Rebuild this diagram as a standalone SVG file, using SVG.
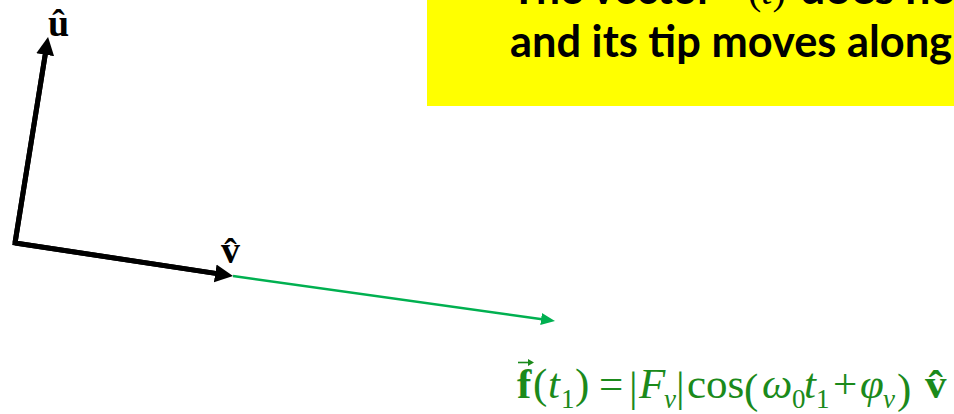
<svg xmlns="http://www.w3.org/2000/svg" width="954" height="414" viewBox="0 0 954 414">
  <style>
    .note { font-family: Lato, "Liberation Sans", sans-serif; font-weight: bold; font-size: 44px; fill: #000; }
    .serif { font-family: "Liberation Serif", "DejaVu Serif", serif; }
    .m { font-family: "Liberation Serif", "DejaVu Serif", serif; font-size: 43px; fill: #1b8a1b; }
    .it { font-style: italic; }
    .bd { font-weight: bold; }
    .sub { font-size: 27px; }
    .lbl { font-family: "Liberation Serif", "DejaVu Serif", serif; font-weight: bold; font-size: 38px; fill: #000; }
    .axis { stroke: #000; stroke-width: 5; fill: none; stroke-linejoin: miter; }
    .fvec { stroke: #00b050; stroke-width: 2.5; fill: none; }
  </style>
  <defs>
    <marker id="headBlack" markerUnits="userSpaceOnUse" markerWidth="20" markerHeight="20" viewBox="0 -10 20 20" refX="2" refY="0" orient="auto">
      <path d="M0,-9 L18,0 L0,9 z" fill="#000"/>
    </marker>
    <marker id="headGreen" markerUnits="userSpaceOnUse" markerWidth="16" markerHeight="16" viewBox="0 -8 16 16" refX="1" refY="0" orient="auto">
      <path d="M0,-6 L14,0 L0,6 z" fill="#00b050"/>
    </marker>
  </defs>

  <rect width="954" height="414" fill="#fff"/>

  <!-- yellow note box -->
  <g id="note">
    <rect x="427" y="-10" width="540" height="116" fill="#ffff00"/>
    <text class="note" x="511" y="4" textLength="202" lengthAdjust="spacingAndGlyphs">The vector</text>
    <text class="serif" x="748" y="4" font-size="40" fill="#000">(<tspan class="it">t</tspan>)</text>
    <text class="note" x="800" y="4" textLength="156" lengthAdjust="spacingAndGlyphs">does no</text>
    <text class="note" x="510" y="57" textLength="442" lengthAdjust="spacingAndGlyphs">and its tip moves along</text>
  </g>

  <!-- connectors -->
  <g id="connectors">
    <path id="axes" class="axis" d="M45.5,52.8 L15,243 L217.2,273.6"/>
    <line x1="15" y1="243" x2="45.5" y2="52.8" stroke="#000" stroke-width="5" marker-end="url(#headBlack)"/>
    <line x1="15" y1="243" x2="217.2" y2="273.6" stroke="#000" stroke-width="5" marker-end="url(#headBlack)"/>
    <line id="f-vector" class="fvec" x1="233" y1="276" x2="542.1" y2="319.2" marker-end="url(#headGreen)"/>
  </g>

  <!-- labels -->
  <g id="label-u">
    <text class="lbl" x="48" y="36">û</text>
  </g>
  <g id="label-v">
    <text class="lbl" x="221" y="263">v̂</text>
  </g>

  <!-- formula -->
  <g id="formula">
    <path d="M518,362.5 L531,362.5" stroke="#1b8a1b" stroke-width="1.6"/>
    <path d="M534,362.5 L528,359 L528,366 z" fill="#1b8a1b"/>
    <text class="m bd" x="517" y="398">f</text>
    <text class="m" x="533" y="398">(</text>
    <text class="m it" x="548" y="398">t</text>
    <text class="m sub" x="561" y="408">1</text>
    <text class="m" x="575" y="398">)</text>
    <text class="m" x="599" y="398">=</text>
    <text class="m" x="629" y="401" font-size="54">|</text>
    <text class="m it" x="639" y="398">F</text>
    <text class="m it sub" x="664" y="408">v</text>
    <text class="m" x="676" y="401" font-size="54">|</text>
    <text class="m" x="687" y="398">cos</text>
    <text class="m" x="744" y="403" font-size="58">(</text>
    <text class="m it" x="762" y="398">ω</text>
    <text class="m sub" x="792" y="408">0</text>
    <text class="m it" x="804" y="398">t</text>
    <text class="m sub" x="816" y="408">1</text>
    <text class="m" x="833" y="398">+</text>
    <text class="m it" x="860" y="398">φ</text>
    <text class="m it sub" x="883" y="408">v</text>
    <text class="m" x="897" y="403" font-size="58">)</text>
    <text class="m bd" x="925" y="398">v̂</text>
  </g>
</svg>
